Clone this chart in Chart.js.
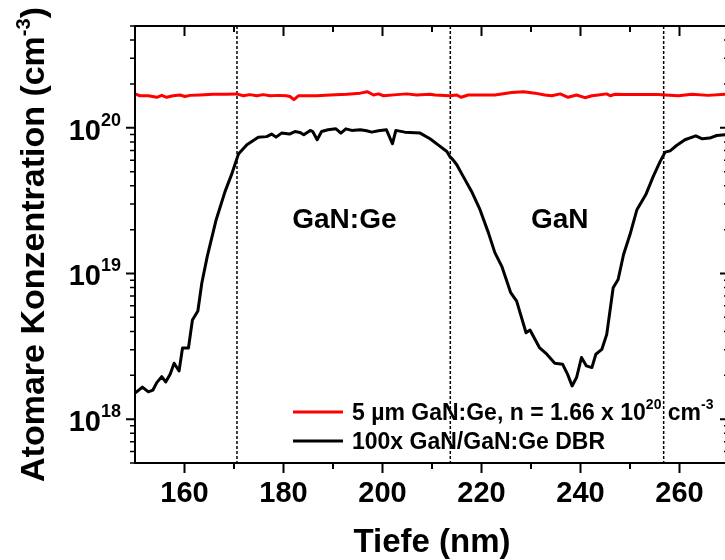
<!DOCTYPE html>
<html>
<head>
<meta charset="utf-8">
<script src="https://cdn.jsdelivr.net/npm/chart.js@4.4.1/dist/chart.umd.min.js"></script>
<style>
  html, body { margin: 0; padding: 0; background: #fff; overflow: hidden; }
  #wrap { width: 725px; height: 560px; overflow: hidden; position: relative; }
  canvas { display: block; }
</style>
</head>
<body>
<div id="wrap"><canvas id="c" width="740" height="560"></canvas></div>
<script>
// SIMS depth profiles: Ge concentration vs. depth
const dbrDepth = [150.0, 151.5, 152.7, 153.6, 154.4, 155.4, 156.2, 157.1, 157.9, 158.9,
  159.6, 160.8, 161.6, 162.7, 163.5, 164.6, 166.4, 168.2, 169.5, 170.9,
  172.6, 174.9, 176.6, 177.6, 178.5, 179.6, 181.2, 182.3, 183.3, 184.1,
  185.4, 185.9, 186.8, 187.7, 189.0, 190.6, 191.6, 192.6, 193.8, 195.5,
  196.8, 197.8, 199.2, 200.8, 202.0, 202.7, 204.5, 207.6, 209.6, 211.3,
  213.0, 213.6, 214.3, 215.0, 216.3, 218.0, 219.7, 221.4, 222.7, 224.1,
  225.9, 227.1, 229.0, 229.8, 231.7, 233.2, 234.8, 236.4, 237.4, 238.3,
  239.2, 240.2, 241.2, 242.3, 243.1, 244.3, 245.3, 246.6, 247.6, 248.7,
  250.0, 251.4, 253.2, 254.7, 256.1, 257.1, 258.1, 259.4, 261.1, 263.3,
  264.6, 266.1, 267.5, 269.2, 270.5];
const dbrConc = [1.51e18, 1.66e18, 1.54e18, 1.58e18, 1.78e18, 1.96e18, 1.80e18, 2.03e18, 2.42e18, 2.14e18,
  3.08e18, 3.08e18, 4.79e18, 5.52e18, 8.6e18, 1.31e19, 2.34e19, 3.66e19, 4.77e19, 6.6e19,
  7.65e19, 8.63e19, 8.7e19, 9.06e19, 8.63e19, 9.2e19, 9.06e19, 9.43e19, 9.3e19, 8.96e19,
  9.6e19, 9.43e19, 8.28e19, 9.43e19, 9.69e19, 9.84e19, 9.2e19, 9.84e19, 9.6e19, 9.69e19,
  9.54e19, 9.34e19, 9.54e19, 9.69e19, 7.77e19, 9.6e19, 9.34e19, 9.2e19, 8.41e19, 7.6e19,
  6.88e19, 6.36e19, 6.0e19, 5.58e19, 4.64e19, 3.66e19, 2.74e19, 1.90e19, 1.39e19, 1.12e19,
  7.38e18, 6.46e18, 3.92e18, 4.09e18, 3.10e18, 2.79e18, 2.42e18, 2.38e18, 2.03e18, 1.69e18,
  1.93e18, 2.65e18, 2.32e18, 2.26e18, 2.79e18, 3.01e18, 3.82e18, 7.98e18, 9.1e18, 1.35e19,
  1.85e19, 2.74e19, 3.48e19, 4.64e19, 5.88e19, 6.81e19, 6.95e19, 7.56e19, 8.28e19, 8.81e19,
  8.41e19, 8.5e19, 8.86e19, 8.96e19, 9.0e19];

const bulkDepth = [150.0, 151.0, 152.7, 154.4, 155.4, 156.4, 157.7, 159.1, 160.1, 161.1,
  163.1, 165.8, 168.5, 170.5, 171.9, 173.2, 174.6, 175.9, 177.3, 178.9,
  180.6, 181.3, 182.1, 183.0, 184.7, 186.7, 189.4, 192.8, 195.5, 196.9,
  198.2, 199.2, 200.2, 202.9, 204.9, 206.9, 209.6, 210.6, 213.6, 215.0,
  215.9, 217.3, 220.0, 222.7, 226.1, 228.5, 230.8, 232.8, 234.2, 235.9,
  237.5, 239.2, 240.9, 242.3, 243.6, 245.3, 246.0, 247.0, 249.0, 252.4,
  255.7, 257.1, 259.8, 262.5, 265.8, 269.2, 270.5];
const bulkConc = [1.71e20, 1.66e20, 1.66e20, 1.62e20, 1.67e20, 1.62e20, 1.66e20, 1.68e20, 1.64e20, 1.67e20,
  1.68e20, 1.70e20, 1.70e20, 1.71e20, 1.66e20, 1.69e20, 1.66e20, 1.69e20, 1.66e20, 1.67e20,
  1.66e20, 1.64e20, 1.56e20, 1.66e20, 1.66e20, 1.66e20, 1.68e20, 1.70e20, 1.73e20, 1.77e20,
  1.68e20, 1.71e20, 1.66e20, 1.69e20, 1.71e20, 1.68e20, 1.70e20, 1.68e20, 1.66e20, 1.68e20,
  1.62e20, 1.68e20, 1.68e20, 1.68e20, 1.75e20, 1.77e20, 1.73e20, 1.68e20, 1.66e20, 1.71e20,
  1.62e20, 1.68e20, 1.61e20, 1.66e20, 1.68e20, 1.71e20, 1.66e20, 1.70e20, 1.69e20, 1.69e20,
  1.69e20, 1.68e20, 1.66e20, 1.70e20, 1.67e20, 1.70e20, 1.70e20];

// Layer interfaces (nm) and layer names
const layerBoundaries = [170.6, 213.7, 256.8];
const layerLabels = [{ text: 'GaN:Ge', depth: 192.3 }, { text: 'GaN', depth: 235.8 }];

// Axis ticks
const xMajorTicks = [160, 180, 200, 220, 240, 260];
const xMinorTicks = [170, 190, 210, 230, 250, 270];
const yDecades = [18, 19, 20];

const FONT = '"Liberation Sans", Arial, Helvetica, sans-serif';
const bold = px => 'bold ' + px + 'px ' + FONT;

const toPoints = (xs, ys) => xs.map((v, i) => ({ x: v, y: ys[i] }));

// draw a run of [text, isSuperscript] pieces starting at x, returns end x
function drawRuns(ctx, runs, x, y, mainPx, supPx, supRaise) {
  for (const [t, sup] of runs) {
    ctx.font = bold(sup ? supPx : mainPx);
    ctx.fillText(t, x, sup ? y - supRaise : y);
    x += ctx.measureText(t).width;
  }
  return x;
}
function runsWidth(ctx, runs, mainPx, supPx) {
  let w = 0;
  for (const [t, sup] of runs) { ctx.font = bold(sup ? supPx : mainPx); w += ctx.measureText(t).width; }
  return w;
}

const decor = {
  id: 'profileDecor',
  beforeDatasetsDraw(chart) {
    const { ctx, chartArea: a, scales: { x } } = chart;
    ctx.save();
    ctx.strokeStyle = '#000';
    ctx.lineWidth = 1.5;
    ctx.setLineDash([3, 2]);
    for (const b of layerBoundaries) {
      const px = x.getPixelForValue(b);
      ctx.beginPath();
      ctx.moveTo(px, a.top);
      ctx.lineTo(px, a.bottom);
      ctx.stroke();
    }
    ctx.restore();
  },
  afterDraw(chart) {
    const { ctx, chartArea: a, scales: { x, y } } = chart;
    ctx.save();
    ctx.strokeStyle = '#000';
    ctx.fillStyle = '#000';
    ctx.lineWidth = 2;
    ctx.setLineDash([]);

    // frame
    ctx.strokeRect(a.left, a.top, a.right - a.left, a.bottom - a.top);

    // x ticks: outward on bottom, inward on top
    ctx.lineWidth = 2;
    const xt = (v, len) => {
      const px = x.getPixelForValue(v);
      ctx.beginPath();
      ctx.moveTo(px, a.bottom); ctx.lineTo(px, a.bottom + len);
      ctx.moveTo(px, a.top); ctx.lineTo(px, a.top + len);
      ctx.stroke();
    };
    xMajorTicks.forEach(v => xt(v, 10));
    xMinorTicks.forEach(v => xt(v, 6));

    // y ticks (log): outward on left, inward on right
    const yt = (v, len, w) => {
      const py = y.getPixelForValue(v);
      ctx.lineWidth = w;
      ctx.beginPath();
      ctx.moveTo(a.left, py); ctx.lineTo(a.left - len, py);
      ctx.moveTo(a.right, py); ctx.lineTo(a.right - len, py);
      ctx.stroke();
    };
    for (let e = 17; e <= 20; e++) {
      for (let m = 1; m <= 9; m++) {
        const v = m * Math.pow(10, e);
        if (v < y.min * 0.999 || v > y.max * 1.001) continue;
        if (m === 1) yt(v, 9, 2); else yt(v, 5, 1.5);
      }
    }

    // x tick labels
    ctx.font = bold(29);
    ctx.textAlign = 'center';
    ctx.textBaseline = 'alphabetic';
    xMajorTicks.forEach(v => ctx.fillText(String(v), x.getPixelForValue(v), a.bottom + 39));

    // y tick labels 10^n
    ctx.textAlign = 'left';
    yDecades.forEach(e => {
      const py = y.getPixelForValue(Math.pow(10, e));
      const runs = [['10', false], [String(e), true]];
      const w = runsWidth(ctx, runs, 29, 18);
      drawRuns(ctx, runs, a.left - 14 - w, py + 12, 29, 18, 14);
    });

    // x axis title
    ctx.font = bold(33);
    ctx.textAlign = 'center';
    ctx.fillText('Tiefe (nm)', (a.left + a.right) / 2, 552);

    // y axis title (rotated)
    ctx.save();
    ctx.translate(44, (a.top + a.bottom) / 2);
    ctx.rotate(-Math.PI / 2);
    ctx.textAlign = 'left';
    const yRuns = [['Atomare Konzentration (cm', false], ['-3', true], [')', false]];
    const yw = runsWidth(ctx, yRuns, 34, 20);
    drawRuns(ctx, yRuns, -yw / 2, 0, 34, 20, 14);
    ctx.restore();

    // layer names
    ctx.font = bold(28);
    ctx.textAlign = 'center';
    layerLabels.forEach(l => ctx.fillText(l.text, x.getPixelForValue(l.depth), 228));

    // legend
    const legend = [
      { color: '#ff0000', runs: [['5 \u00b5m GaN:Ge, n = 1.66 x 10', false], ['20', true], [' cm', false], ['-3', true]] },
      { color: '#000000', runs: [['100x GaN/GaN:Ge DBR', false]] }
    ];
    ctx.textAlign = 'left';
    legend.forEach((item, i) => {
      const ly = 412 + i * 29;
      ctx.strokeStyle = item.color;
      ctx.lineWidth = 3;
      ctx.beginPath();
      ctx.moveTo(293, ly); ctx.lineTo(343, ly);
      ctx.stroke();
      ctx.fillStyle = '#000';
      drawRuns(ctx, item.runs, 352, ly + 8, 23, 14, 11);
    });
    ctx.restore();
  }
};

new Chart(document.getElementById('c'), {
  type: 'line',
  data: {
    datasets: [
      {
        label: '5 \u00b5m GaN:Ge, n = 1.66 x 10^20 cm^-3',
        data: toPoints(bulkDepth, bulkConc),
        borderColor: '#ff0000',
        borderWidth: 3,
        pointRadius: 0,
        tension: 0,
        borderJoinStyle: 'round'
      },
      {
        label: '100x GaN/GaN:Ge DBR',
        data: toPoints(dbrDepth, dbrConc),
        borderColor: '#000000',
        borderWidth: 3,
        pointRadius: 0,
        tension: 0,
        borderJoinStyle: 'round'
      }
    ]
  },
  options: {
    responsive: false,
    animation: false,
    devicePixelRatio: 1,
    layout: { padding: { left: 135, right: 11, top: 26, bottom: 97 } },
    plugins: { legend: { display: false }, tooltip: { enabled: false } },
    scales: {
      x: { type: 'linear', min: 150, max: 270, display: false },
      y: { type: 'logarithmic', min: 5e17, max: 5e20, display: false }
    }
  },
  plugins: [decor]
});
</script>
</body>
</html>
